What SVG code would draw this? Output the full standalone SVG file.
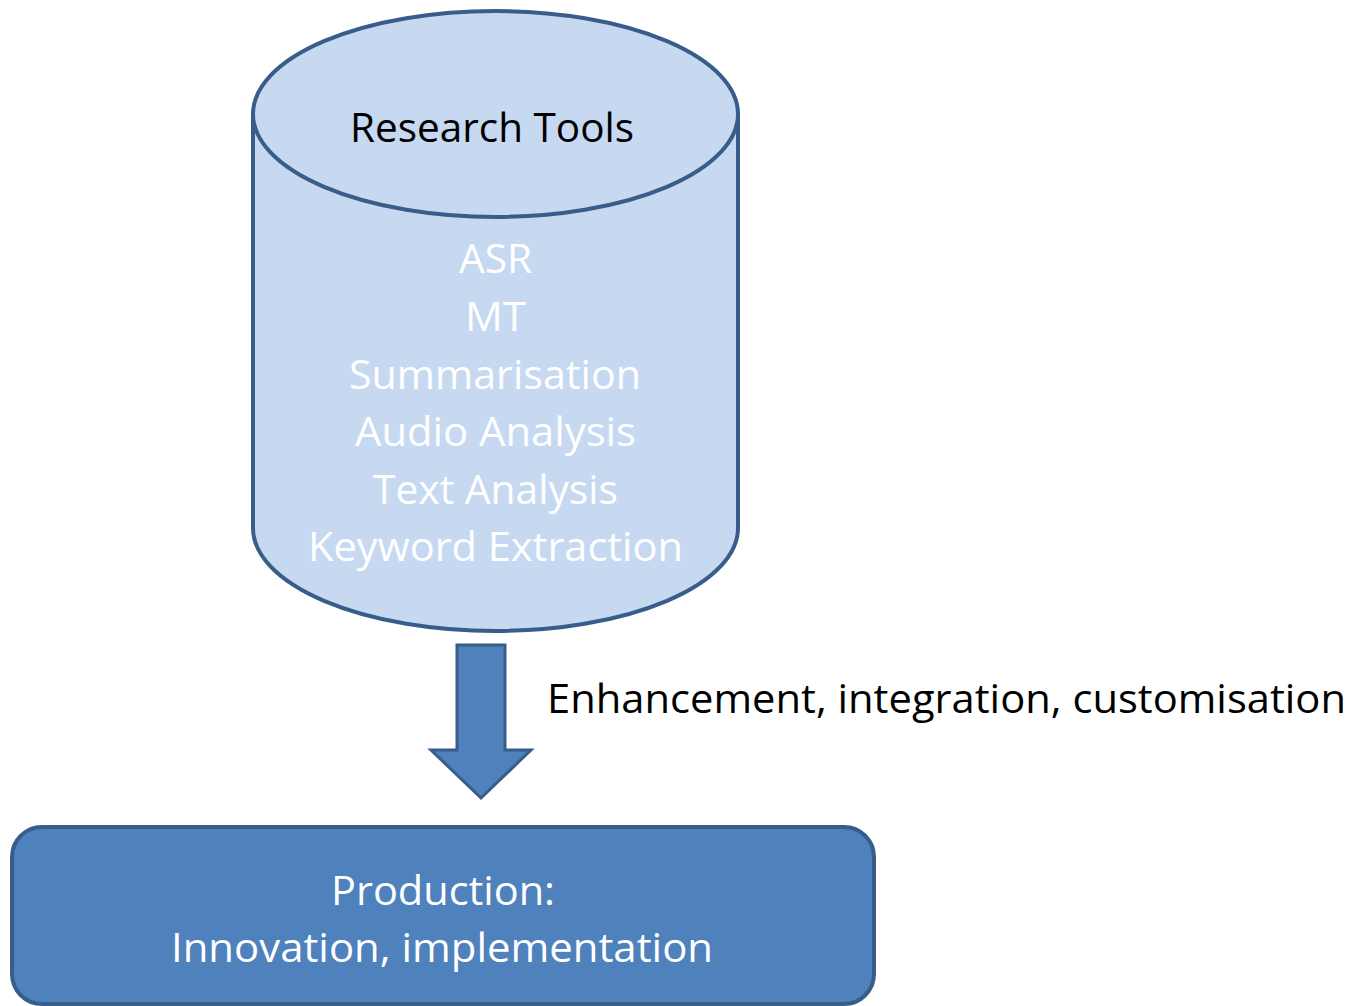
<svg xmlns="http://www.w3.org/2000/svg" width="1353" height="1006" viewBox="0 0 1353 1006">
<style>
.t{font-family:"Open Sans","Liberation Sans",sans-serif;font-size:41px;text-anchor:middle}
.dark{fill:#000}
.white{fill:#fff}
.shape{stroke:#385D8A;stroke-width:4}
</style>
<rect width="1353" height="1006" fill="#fff"/>
<g id="research-tools">
<path class="shape" fill="#C6D9F1" d="M253,114 L253,528 A242.5,103 0 0 0 738,528 L738,114 Z"/>
<ellipse class="shape" fill="#C6D9F1" cx="495.5" cy="114" rx="242.5" ry="103"/>
<text class="t dark" x="492" y="142" textLength="284" lengthAdjust="spacingAndGlyphs">Research Tools</text>
<text class="t white" x="495.5" y="273" textLength="73" lengthAdjust="spacingAndGlyphs">ASR</text>
<text class="t white" x="495.5" y="331" textLength="61" lengthAdjust="spacingAndGlyphs">MT</text>
<text class="t white" x="495" y="389" textLength="292" lengthAdjust="spacingAndGlyphs">Summarisation</text>
<text class="t white" x="495.5" y="446" textLength="281" lengthAdjust="spacingAndGlyphs">Audio Analysis</text>
<text class="t white" x="495.5" y="504" textLength="245" lengthAdjust="spacingAndGlyphs">Text Analysis</text>
<text class="t white" x="495.5" y="561" textLength="375" lengthAdjust="spacingAndGlyphs">Keyword Extraction</text>
</g>
<g id="connectors">
<path fill="#4F81BD" stroke="#385D8A" stroke-width="3" d="M457,645 L505,645 L505,750 L531,750 L481,798 L431,750 L457,750 Z"/>
<text class="t dark" x="946.5" y="713" textLength="799" lengthAdjust="spacingAndGlyphs">Enhancement, integration, customisation</text>
</g>
<g id="production">
<rect class="shape" fill="#4F81BD" x="12" y="827" width="862" height="177" rx="30" ry="30"/>
<text class="t white" x="443" y="905" textLength="224" lengthAdjust="spacingAndGlyphs">Production:</text>
<text class="t white" x="442" y="962" textLength="542" lengthAdjust="spacingAndGlyphs">Innovation, implementation</text>
</g>
</svg>
